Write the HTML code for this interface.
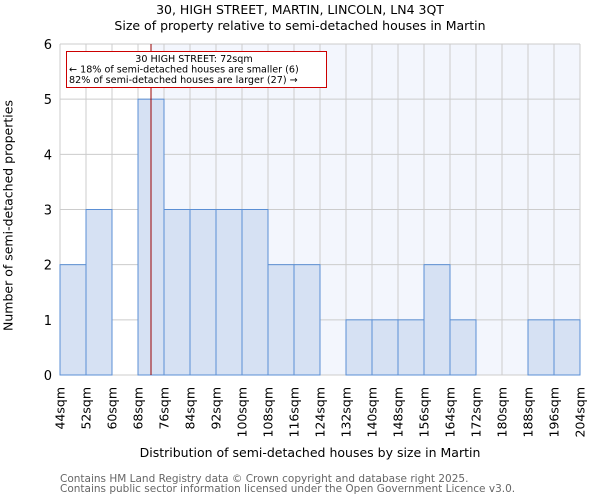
<!DOCTYPE html>
<html><head><meta charset="utf-8"><style>
body{margin:0;background:#fff;font-family:"DejaVu Sans","Liberation Sans",sans-serif;}
svg text{font-family:"DejaVu Sans","Liberation Sans",sans-serif;}
</style></head><body>
<svg id="c" width="600" height="500" xmlns="http://www.w3.org/2000/svg"></svg>
<script>
const binStarts=[44,52,60,68,76,84,92,100,108,116,124,132,140,148,156,164,172,180,188,196];
const counts=[2,3,0,5,3,3,3,3,2,2,0,1,1,1,2,1,0,0,1,1];
const xTickLabels=["44sqm","52sqm","60sqm","68sqm","76sqm","84sqm","92sqm","100sqm","108sqm","116sqm","124sqm","132sqm","140sqm","148sqm","156sqm","164sqm","172sqm","180sqm","188sqm","196sqm","204sqm"];
const xTickValues=[44,52,60,68,76,84,92,100,108,116,124,132,140,148,156,164,172,180,188,196,204];
const yTicks=[0,1,2,3,4,5,6];
const propertySize=72;
const binWidth=8;
const L=60,R=580,T=44,B=375;
const xS=v=>L+(v-44)/(204-44)*(R-L);
const yS=v=>B-v/6*(B-T);
const svg=document.getElementById('c');
const NS="http://www.w3.org/2000/svg";
function mk(tag,attrs,parent){const e=document.createElementNS(NS,tag);for(const k in attrs)e.setAttribute(k,attrs[k]);(parent||svg).appendChild(e);return e;}
let e;
e=mk('rect',{x:xS(propertySize),y:T,width:R-xS(propertySize),height:B-T,fill:'#f3f6fd'});


xTickValues.forEach(v=>{e=mk('line',{x1:xS(v),x2:xS(v),y1:T,y2:B,stroke:'#cccccc','stroke-width':1});

});
yTicks.forEach(v=>{e=mk('line',{x1:L,x2:R,y1:yS(v),y2:yS(v),stroke:'#cccccc','stroke-width':1});

});
binStarts.forEach((s,i)=>{if(counts[i]<=0)return;
e=mk('rect',{x:xS(s),y:yS(counts[i]),width:xS(s+binWidth)-xS(s),height:B-yS(counts[i]),fill:'#d6e1f3',stroke:'#5b8fd4','stroke-width':1});

});
e=mk('line',{x1:xS(propertySize),x2:xS(propertySize),y1:T,y2:B,stroke:'#990000','stroke-width':1});


yTicks.forEach(v=>{e=mk('text',{x:L-8,y:yS(v)+5,'text-anchor':'end','font-size':13,fill:'#000'});e.textContent=v;

});
xTickValues.forEach((v,i)=>{const x=xS(v)+4.5,y=387;e=mk('text',{x:x,y:y,'text-anchor':'end','font-size':12.5,fill:'#000',transform:`rotate(-90 ${x} ${y})`});e.textContent=xTickLabels[i];

});
const g=mk('g',{});


mk('rect',{x:66.5,y:51.5,width:260,height:36,fill:'#fff',stroke:'#cc0000','stroke-width':1},g);
const lines=["30 HIGH STREET: 72sqm","\u2190 18% of semi-detached houses are smaller (6)","82% of semi-detached houses are larger (27) \u2192"];
lines.forEach((t,i)=>{e=mk('text',{x:i==0?194:69,y:62+i*10.5,'text-anchor':i==0?'middle':'start','font-size':9.6,fill:'#000'},g);e.textContent=t;});
</script>
<div style="position:absolute;left:0;top:0;width:600px;height:500px;pointer-events:none">
<div style="position:absolute;left:0;width:600px;top:2px;text-align:center;font-size:12.5px;line-height:16px">30, HIGH STREET, MARTIN, LINCOLN, LN4 3QT<br>Size of property relative to semi-detached houses in Martin</div>
<div style="position:absolute;left:0;width:620px;top:445px;text-align:center;font-size:12.5px;white-space:nowrap">Distribution of semi-detached houses by size in Martin</div>
<div style="position:absolute;left:-142px;top:208px;width:300px;text-align:center;font-size:12.5px;white-space:nowrap;transform:rotate(-90deg)">Number of semi-detached properties</div>
<div style="position:absolute;left:60px;top:474px;font-size:10.5px;line-height:10px;color:#666;white-space:nowrap">Contains HM Land Registry data © Crown copyright and database right 2025.<br>Contains public sector information licensed under the Open Government Licence v3.0.</div>
</div>
</body></html>
